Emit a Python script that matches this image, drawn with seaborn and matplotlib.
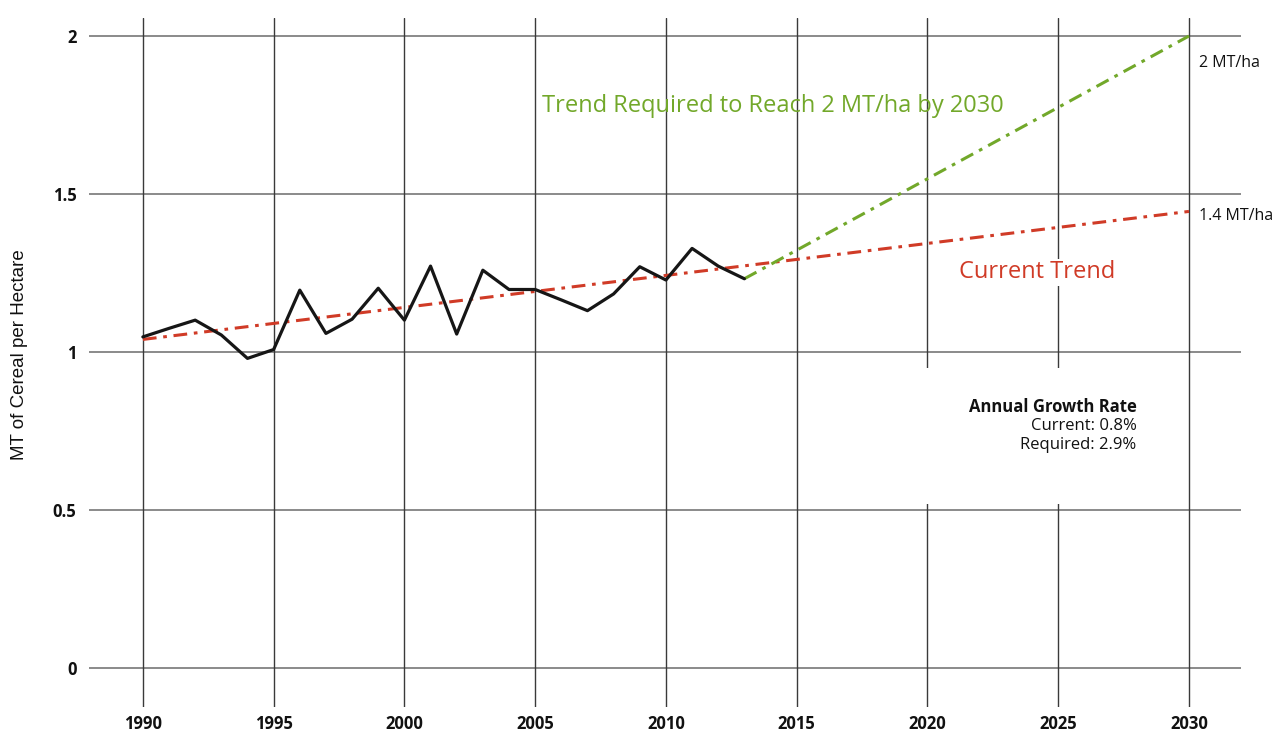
import numpy as np
import pandas as pd
import matplotlib.pyplot as plt
import seaborn as sns

# Observed cereal yield (MT per hectare)
years = list(range(1990, 2014))
yield_mt = [1.048, 1.075, 1.101, 1.054, 0.980, 1.008, 1.196, 1.059, 1.104, 1.202,
            1.101, 1.272, 1.057, 1.259, 1.198, 1.198, 1.165, 1.131, 1.184, 1.270,
            1.228, 1.328, 1.272, 1.232]

# Trend lines
current_years = [1990, 2030]
current_vals = [1.04, 1.445]
required_years = [2013, 2030]
required_vals = [1.232, 2.0]

x_ticks = [1990, 1995, 2000, 2005, 2010, 2015, 2020, 2025, 2030]
y_ticks = [0, 0.5, 1, 1.5, 2]
y_tick_labels = ['0', '0.5', '1', '1.5', '2']

RED = '#d03b27'
GREEN = '#72a82a'

sns.set_style('white')
plt.rcParams['font.family'] = ['Open Sans', 'DejaVu Sans']

fig = plt.figure(figsize=(12.81, 7.34), dpi=100)
ax = fig.add_axes([89 / 1281, 1 - 707 / 734, (1241 - 89) / 1281, (707 - 18) / 734])

# grid
for y in y_ticks:
    ax.axhline(y, color='#6b6b6b', lw=1.1, zorder=1)
for x in x_ticks:
    ax.axvline(x, color='#3a3a3a', lw=1.0, zorder=1)

df = pd.DataFrame({'year': years, 'yield': yield_mt})
sns.lineplot(data=df, x='year', y='yield', color='#161616', lw=2.3, ax=ax, zorder=4)

dash = (4.5, 2.2, 1.2, 2.2)
cur = pd.DataFrame({'year': current_years, 'val': current_vals})
sns.lineplot(data=cur, x='year', y='val', color=RED, lw=2.2, ax=ax, zorder=3)
ax.lines[-1].set_dashes(dash)
req = pd.DataFrame({'year': required_years, 'val': required_vals})
sns.lineplot(data=req, x='year', y='val', color=GREEN, lw=2.2, ax=ax, zorder=3)
ax.lines[-1].set_dashes(dash)

ax.set_xlim(1987.94, 2031.99)
ax.set_ylim(-0.123, 2.057)
ax.set_xticks(x_ticks)
ax.set_xticklabels([str(x) for x in x_ticks], fontweight='bold', fontsize=12)
ax.set_yticks(y_ticks)
ax.set_yticklabels(y_tick_labels, fontweight='bold', fontsize=12)
ax.tick_params(axis='both', length=0, colors='#111111')
ax.tick_params(axis='x', pad=6)
ax.tick_params(axis='y', pad=9)
for s in ax.spines.values():
    s.set_visible(False)
ax.set_xlabel('')
ax.set_ylabel('')
fig.text(20 / 1281, 1 - 355 / 734, 'MT of Cereal per Hectare', rotation=90,
         fontsize=13.5, family='Liberation Sans', color='#111111', ha='center', va='center')

ax.text(2014.1, 1.78, 'Trend Required to Reach 2 MT/ha by 2030', color=GREEN,
        fontsize=17, ha='center', va='center', zorder=5)
ax.text(2024.2, 1.253, 'Current Trend', color=RED, fontsize=17, ha='center', va='center',
        zorder=5, bbox=dict(facecolor='white', edgecolor='none', pad=1))
ax.text(2030.4, 1.915, '2 MT/ha', fontsize=11.5, ha='left', va='center', color='#111111')
ax.text(2030.4, 1.43, '1.4 MT/ha', fontsize=11.5, ha='left', va='center', color='#111111')
ax.add_patch(plt.Rectangle((2019.7, 0.52), 8.4, 0.43, facecolor='white',
                           edgecolor='none', zorder=2))
ax.text(2028.0, 0.825, 'Annual Growth Rate', fontsize=12, fontweight='bold', ha='right',
        va='center', color='#111111', zorder=5)
ax.text(2028.0, 0.765, 'Current: 0.8%', fontsize=12, ha='right',
        va='center', color='#111111', zorder=5)
ax.text(2028.0, 0.705, 'Required: 2.9%', fontsize=12, ha='right',
        va='center', color='#111111', zorder=5)

fig.savefig('out.png', dpi=100)
